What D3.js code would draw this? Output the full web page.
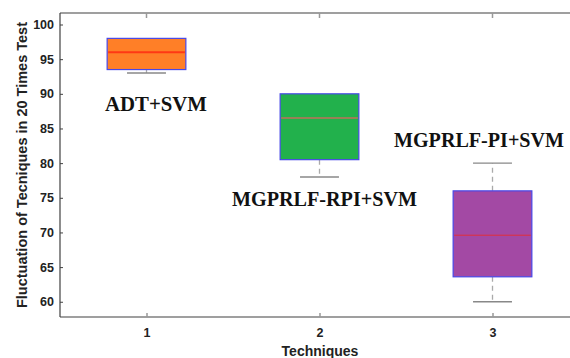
<!DOCTYPE html>
<html><head><meta charset="utf-8">
<script src="https://cdn.jsdelivr.net/npm/d3@7"></script>
<style>body{margin:0;background:#fff}svg{display:block}</style>
</head><body>
<svg id="c" width="570" height="358"></svg>
<script>
const categories = [1, 2, 3];
const names = ["ADT+SVM", "MGPRLF-RPI+SVM", "MGPRLF-PI+SVM"];
const whiskerLow = [93, 78, 60];
const q1 = [93.5, 80.5, 63.6];
const median = [96, 86.5, 69.6];
const q3 = [98, 90, 76];
const whiskerHigh = [98, 90, 80];
const yTicks = [60, 65, 70, 75, 80, 85, 90, 95, 100];
const fills = ["#FF7F27", "#22B14C", "#A349A4"];
const medColors = ["#FF3814", "#C0705A", "#E0303C"];
const medWidths = [2, 1.5, 1];

const svg = d3.select("#c");
const x = d3.scaleLinear().domain([0.5, 3.5]).range([60, 579]);
const y = d3.scaleLinear().domain([57.8, 101.66]).range([317, 13]);
const bw = 0.455, cw = 0.225;

const axisCol = "#404040", tickCol = "#999";
svg.append("line").attr("x1", 60).attr("x2", 570).attr("y1", 317).attr("y2", 317).attr("stroke", axisCol).attr("stroke-width", 1.2);
svg.append("line").attr("x1", 60).attr("x2", 570).attr("y1", 13).attr("y2", 13).attr("stroke", axisCol).attr("stroke-width", 1.2);
svg.append("line").attr("x1", 60).attr("x2", 60).attr("y1", 13).attr("y2", 317).attr("stroke", axisCol).attr("stroke-width", 1.2);

const yAxis = d3.axisLeft(y).tickValues(yTicks).tickSize(-3).tickPadding(6);
const gy = svg.append("g").attr("transform", "translate(60,0)").call(yAxis);
gy.select(".domain").remove();
gy.selectAll(".tick line").attr("stroke", axisCol);
gy.selectAll(".tick text").attr("font-family", "Liberation Sans, Arial, sans-serif").attr("font-weight", "bold").attr("font-size", 12.5).attr("fill", "#222");

const xAxis = d3.axisBottom(x).tickValues(categories).tickFormat(d3.format("d")).tickSize(-4).tickPadding(11);
const gx = svg.append("g").attr("transform", "translate(0,317)").call(xAxis);
gx.select(".domain").remove();
gx.selectAll(".tick line").attr("stroke", tickCol).attr("stroke-width", 1.5);
gx.selectAll(".tick text").attr("font-family", "Liberation Sans, Arial, sans-serif").attr("font-weight", "bold").attr("font-size", 12.5).attr("fill", "#222");
svg.append("g").selectAll("line").data(categories).join("line")
  .attr("x1", d => x(d)).attr("x2", d => x(d)).attr("y1", 13).attr("y2", 18)
  .attr("stroke", tickCol).attr("stroke-width", 1.5);

const g = svg.append("g");
categories.forEach((c, i) => {
  g.append("line").attr("x1", x(c)).attr("x2", x(c)).attr("y1", y(q1[i])).attr("y2", y(whiskerLow[i]))
    .attr("stroke", "#aaa").attr("stroke-width", 1.3).attr("stroke-dasharray", "5,4");
  g.append("line").attr("x1", x(c)).attr("x2", x(c)).attr("y1", y(q3[i])).attr("y2", y(whiskerHigh[i]))
    .attr("stroke", "#aaa").attr("stroke-width", 1.3).attr("stroke-dasharray", "5,4");
  g.append("line").attr("x1", x(c - cw / 2)).attr("x2", x(c + cw / 2)).attr("y1", y(whiskerLow[i])).attr("y2", y(whiskerLow[i]))
    .attr("stroke", "#888").attr("stroke-width", 1.3);
  if (whiskerHigh[i] > q3[i]) {
    g.append("line").attr("x1", x(c - cw / 2)).attr("x2", x(c + cw / 2)).attr("y1", y(whiskerHigh[i])).attr("y2", y(whiskerHigh[i]))
      .attr("stroke", "#888").attr("stroke-width", 1.3);
  }
  g.append("rect").attr("x", x(c - bw / 2)).attr("width", x(c + bw / 2) - x(c - bw / 2))
    .attr("y", y(q3[i])).attr("height", y(q1[i]) - y(q3[i]))
    .attr("fill", fills[i]).attr("stroke", "#4848E8").attr("stroke-width", 1.2);
  g.append("line").attr("x1", x(c - bw / 2) + 1).attr("x2", x(c + bw / 2) - 1).attr("y1", y(median[i])).attr("y2", y(median[i]))
    .attr("stroke", medColors[i]).attr("stroke-width", medWidths[i]);
});

const lab = [
  {t: names[0], x: 105, y: 111, w: 102, fs: 21},
  {t: names[1], x: 232, y: 206, w: 185, fs: 21},
  {t: names[2], x: 394, y: 147, w: 170, fs: 20}
];
svg.append("g").selectAll("text").data(lab).join("text")
  .attr("x", d => d.x).attr("y", d => d.y).text(d => d.t)
  .attr("font-family", "Liberation Serif, Times New Roman, serif").attr("font-weight", "bold").attr("font-size", d => d.fs)
  .attr("fill", "#111").attr("textLength", d => d.w).attr("lengthAdjust", "spacingAndGlyphs");

svg.append("text").attr("transform", "translate(27,165) rotate(-90)").attr("text-anchor", "middle")
  .attr("font-family", "Liberation Sans, Arial, sans-serif").attr("font-weight", "bold").attr("font-size", 14.5).attr("fill", "#222")
  .text("Fluctuation of Tecniques in 20 Times Test");
svg.append("text").attr("x", 320).attr("y", 356).attr("text-anchor", "middle")
  .attr("font-family", "Liberation Sans, Arial, sans-serif").attr("font-weight", "bold").attr("font-size", 14).attr("fill", "#222")
  .text("Techniques");
</script>
</body></html>
